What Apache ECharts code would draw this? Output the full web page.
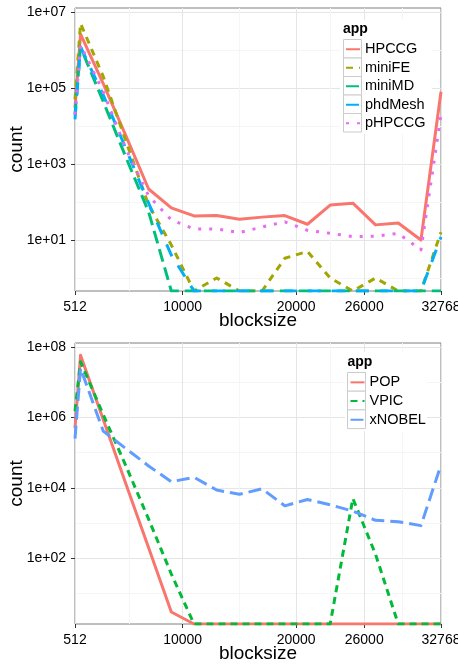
<!DOCTYPE html>
<html><head><meta charset="utf-8">
<script src="https://cdn.jsdelivr.net/npm/echarts@6/dist/echarts.min.js"></script>
<style>html,body{margin:0;padding:0;background:#fff}#c{width:458px;height:664px}</style>
</head><body><div id="c"></div>
<script>
// ---- data ----
const blocksize = [512, 1000, 3000, 5000, 7000, 9000, 11000, 13000, 15000, 17000, 19000, 21000, 23000, 25000, 27000, 29000, 31000, 32768];
const xTicks = [512, 10000, 20000, 26000, 32768];
const xMinor = [5256, 15000, 23000, 29384];

const topApps = ['HPCCG', 'miniFE', 'miniMD', 'phdMesh', 'pHPCCG'];
const HPCCG   = [3e4, 2.6e6, 1.3e5, 5.5e3, 220, 70, 43, 44, 35, 40, 44, 26, 83, 93, 25, 28, 10, 8e4];
const miniFE  = [5e4, 5e6, 2e5, 4e3, 83, 7.4, 0, 1, 0, 0, 3.3, 5, 1, 0, 1, 0, 0, 16];
const miniMD  = [2e4, 1.2e6, 4.4e4, 1.5e3, 55, 0, 0, 0, 0, 0, 0, 0, 0, 0, 0, 0, 0, 0];
const phdMesh = [1.5e4, 1.2e6, 6.6e4, 2.5e3, 93, 4, 0, 0, 0, 0, 0, 0, 0, 0, 0, 0, 0, 12];
const pHPCCG  = [2e4, 1.35e6, 8e4, 2.5e3, 145, 34, 19.5, 19.5, 15.6, 22, 30, 18, 15, 12.3, 12.6, 15, 5.5, 2e4];
const topYTicks = [1e1, 1e3, 1e5, 1e7];
const topYMinor = [1e0, 1e2, 1e4, 1e6];

const botApps = ['POP', 'VPIC', 'xNOBEL'];
const POP    = [5e5, 5.8e7, 8.7e5, 1.3e4, 200, 3, 0, 0, 0, 0, 0, 0, 0, 0, 0, 0, 0, 0];
const VPIC   = [1.5e6, 3.8e7, 1.2e6, 4.2e4, 1.3e3, 36, 0, 0, 0, 0, 0, 0, 0, 5e3, 130, 0, 0, 0];
const xNOBEL = [2.5e5, 2.5e7, 4.1e5, 1.3e5, 4.2e4, 1.5e4, 2e4, 8.7e3, 6.6e3, 9.4e3, 3.1e3, 4.7e3, 3.3e3, 2.2e3, 1.2e3, 1.1e3, 850, 4.5e4];
const botYTicks = [1e2, 1e4, 1e6, 1e8];
const botYMinor = [1e1, 1e3, 1e5, 1e7];

// ---- styles ----
const FONT = '"Liberation Sans", Arial, Helvetica, sans-serif';
const topColors = ['#F8766D', '#A3A500', '#00BF7D', '#00B0F6', '#E76BF3'];
const topDash = ['solid', [7, 6], [13, 6], [13, 11], [3, 8]];
const botColors = ['#F8766D', '#00BA38', '#619CFF'];
const botDash = ['solid', [7, 5], [13, 6]];
const topRange = [Math.pow(10, -0.342), Math.pow(10, 7.105)];
const botRange = [Math.pow(10, 0.137), Math.pow(10, 8.113)];

const fmtExp = v => '1e+' + String(Math.round(Math.log10(v))).padStart(2, '0');

function xAxes(gi) {
  return [
    { type: 'value', gridIndex: gi, min: 512, max: 32768, position: 'bottom',
      name: 'blocksize', nameLocation: 'middle', nameGap: 20, nameMoveOverlap: false,
      nameTextStyle: { fontSize: 19, fontFamily: FONT, color: '#000' },
      axisLine: { show: false },
      axisTick: { show: true, length: 4, lineStyle: { color: '#333' }, customValues: xTicks },
      axisLabel: { customValues: xTicks, formatter: v => String(Math.round(v)), margin: 9, fontSize: 14, fontFamily: FONT, color: '#000', hideOverlap: false },
      splitLine: { show: true, lineStyle: { color: '#e5e5e5', width: 1 } } },
    { type: 'value', gridIndex: gi, min: 512, max: 32768, position: 'top',
      axisLine: { show: false },
      axisTick: { show: false, customValues: xMinor },
      axisLabel: { show: false, customValues: xMinor },
      splitLine: { show: true, lineStyle: { color: '#f5f5f5', width: 1 } } }
  ];
}
function yAxes(gi, range, ticks, minor) {
  return [
    { type: 'log', logBase: 10, gridIndex: gi, min: range[0], max: range[1], position: 'left',
      name: 'count', nameLocation: 'middle', nameGap: 49, nameMoveOverlap: false,
      nameTextStyle: { fontSize: 19, fontFamily: FONT, color: '#000' },
      axisLine: { show: false },
      axisTick: { show: true, length: 4, lineStyle: { color: '#333' }, customValues: ticks },
      axisLabel: { customValues: ticks, formatter: fmtExp, margin: 9, fontSize: 14, fontFamily: FONT, color: '#000' },
      splitLine: { show: true, lineStyle: { color: '#e5e5e5', width: 1 } } },
    { type: 'log', logBase: 10, gridIndex: gi, min: range[0], max: range[1], position: 'right',
      axisLine: { show: false },
      axisTick: { show: false, customValues: minor },
      axisLabel: { show: false, customValues: minor },
      splitLine: { show: true, lineStyle: { color: '#f5f5f5', width: 1 } } }
  ];
}

function mkSeries(name, vals, color, dash, xi, yi, floor) {
  return {
    name, type: 'line', xAxisIndex: xi, yAxisIndex: yi,
    symbol: 'none', clip: true, animation: false,
    data: blocksize.map((b, i) => [b, vals[i] > 0 ? vals[i] : floor]),
    itemStyle: { color },
    lineStyle: { color, width: 3, type: dash, cap: 'butt', join: 'round' }
  };
}

const topVals = [HPCCG, miniFE, miniMD, phdMesh, pHPCCG];
const botVals = [POP, VPIC, xNOBEL];
const series = [];
topApps.forEach((n, i) => series.push(mkSeries(n, topVals[i], topColors[i], topDash[i], 0, 0, topRange[0])));
botApps.forEach((n, i) => series.push(mkSeries(n, botVals[i], botColors[i], botDash[i], 2, 2, botRange[0])));

function keyBoxes(x, y0, w, h, n) {
  const out = [];
  for (let i = 0; i < n; i++) {
    out.push({ type: 'rect', z: 3, shape: { x: x, y: y0 + i * h, width: w, height: h },
      style: { fill: '#fff', stroke: '#cccccc', lineWidth: 1 } });
  }
  return out;
}

const graphic = [
  { type: 'rect', z: 1, shape: { x: 340, y: 20, width: 92, height: 114 }, style: { fill: '#fff' } },
  { type: 'rect', z: 1, shape: { x: 345, y: 352, width: 82, height: 79 }, style: { fill: '#fff' } },
  { type: 'text', z: 3, left: 343, top: 22, style: { text: 'app', font: 'bold 14px ' + FONT, fill: '#000' } },
  { type: 'text', z: 3, left: 347.5, top: 355, style: { text: 'app', font: 'bold 14px ' + FONT, fill: '#000' } }
].concat(keyBoxes(343.5, 39.5, 18, 18.5, 5)).concat(keyBoxes(347.5, 372.5, 18, 18.7, 3));

const legendCommon = {
  orient: 'vertical', itemWidth: 14, itemGap: 0, padding: 0, z: 5,
  itemStyle: { opacity: 0 },
  textStyle: { fontSize: 14.5, fontFamily: FONT, color: '#000' }
};

const chart = echarts.init(document.getElementById('c'), null, { renderer: 'canvas' });
chart.setOption({
  animation: false,
  backgroundColor: '#fff',
  grid: [
    { left: 75, top: 8, width: 366, height: 283, outerBoundsMode: 'none', containLabel: false, show: true, borderColor: '#7f7f7f', borderWidth: 1, backgroundColor: 'transparent' },
    { left: 75, top: 343, width: 366, height: 281, outerBoundsMode: 'none', containLabel: false, show: true, borderColor: '#7f7f7f', borderWidth: 1, backgroundColor: 'transparent' }
  ],
  xAxis: xAxes(0).concat(xAxes(1)),
  yAxis: yAxes(0, topRange, topYTicks, topYMinor).concat(yAxes(1, botRange, botYTicks, botYMinor)),
  legend: [
    Object.assign({}, legendCommon, { data: topApps, left: 345, top: 40, itemHeight: 18.5,
      textStyle: Object.assign({}, legendCommon.textStyle, { lineHeight: 18.5 }) }),
    Object.assign({}, legendCommon, { data: botApps, left: 349.5, top: 373, itemHeight: 18.7,
      textStyle: Object.assign({}, legendCommon.textStyle, { lineHeight: 18.7 }) })
  ],
  graphic: graphic,
  series: series
});
</script></body></html>
